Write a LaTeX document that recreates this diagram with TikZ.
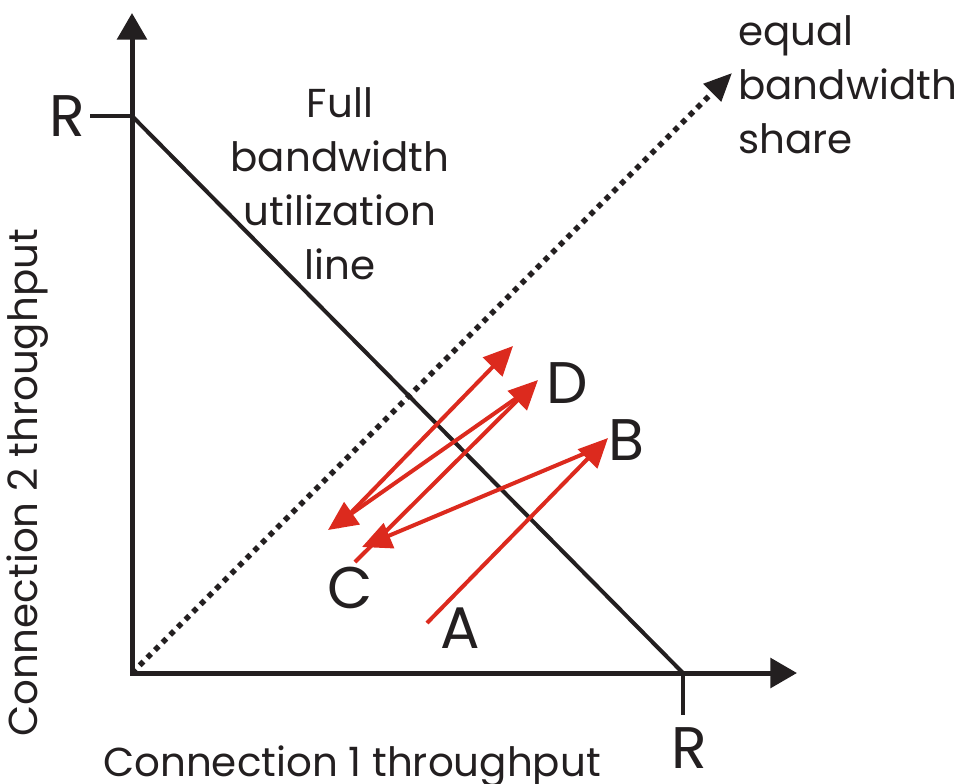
\documentclass[tikz,border=0pt]{standalone}
\usepackage{fontspec}
\setmainfont{Poppins}
\usetikzlibrary{arrows.meta}
\definecolor{ink}{RGB}{35,31,32}
\definecolor{arrowred}{RGB}{220,42,30}
\begin{document}
\begin{tikzpicture}[x=0.75pt,y=-0.75pt,
  axisline/.style={draw=ink,line width=3.75pt,line join=miter,{Triangle[length=20pt,width=22pt]}-{Triangle[length=20pt,width=22pt]}},
  fullline/.style={draw=ink,line width=3pt},
  tickline/.style={draw=ink,line width=3.3pt},
  eqline/.style={draw=ink,line width=4pt,dash pattern=on 4pt off 4.1pt,-{Triangle[length=21pt,width=18pt]}},
  redarrow/.style={draw=arrowred,line width=3pt,-{Triangle[length=22pt,width=20pt]}},
  lab/.style={font=\fontsize{30.3pt}{40.5pt}\selectfont,inner sep=0pt,text=ink},
  letter/.style={font=\fontsize{44pt}{50pt}\selectfont,inner sep=0pt,text=ink}
]
\useasboundingbox (0,0) rectangle (956,783);
% key points
\coordinate (O) at (132,673);
\coordinate (ytip) at (132,13);
\coordinate (xtip) at (797,673);
\coordinate (Ry) at (132,116);
\coordinate (Ryl) at (90,116);
\coordinate (Rx) at (683,673);
\coordinate (Rxb) at (683,715);
\coordinate (eqtip) at (732,73);
% axes
\draw[axisline] (ytip) -- (O) -- (xtip);
\draw[tickline] (Ryl) -- (Ry);
\draw[tickline] (Rx) -- (Rxb);
\draw[fullline] (Ry) -- (Rx);
\draw[eqline] (O) -- (eqtip);
% red trajectory
\coordinate (a0) at (427,623);
\coordinate (a1) at (608,438);
\coordinate (b0) at (600,447);
\coordinate (b1) at (362,547);
\coordinate (c0) at (355,562);
\coordinate (c1) at (538,380);
\coordinate (d0) at (525,392);
\coordinate (d1) at (328,530);
\coordinate (e0) at (337,527);
\coordinate (e1) at (513,346);
\draw[redarrow] (a0) -- (a1);
\draw[redarrow] (b0) -- (b1);
\draw[redarrow] (c0) -- (c1);
\draw[redarrow] (d0) -- (d1);
\draw[redarrow] (e0) -- (e1);
% letters
\node[letter] (Rleft) at (67,116) {R};
\node[letter] (Rbot) at (689,748) {R};
\node[letter] (A) at (460,628) {A};
\node[letter] (B) at (626,440) {B};
\node[letter] (C) at (350,588) {C};
\node[letter] (D) at (567,383) {D};
% labels
\node[lab,align=center,anchor=north] (full) at (340,87) {Full\\bandwidth\\utilization\\line};
\node[lab,align=left,anchor=north west] (eq) at (738,15) {equal\\bandwidth\\share};
\node[lab,anchor=base] (xlab) at (352,776) {Connection 1 throughput};
\node[lab,anchor=base,rotate=90] (ylab) at (37,483) {Connection 2 throughput};
\end{tikzpicture}
\end{document}
